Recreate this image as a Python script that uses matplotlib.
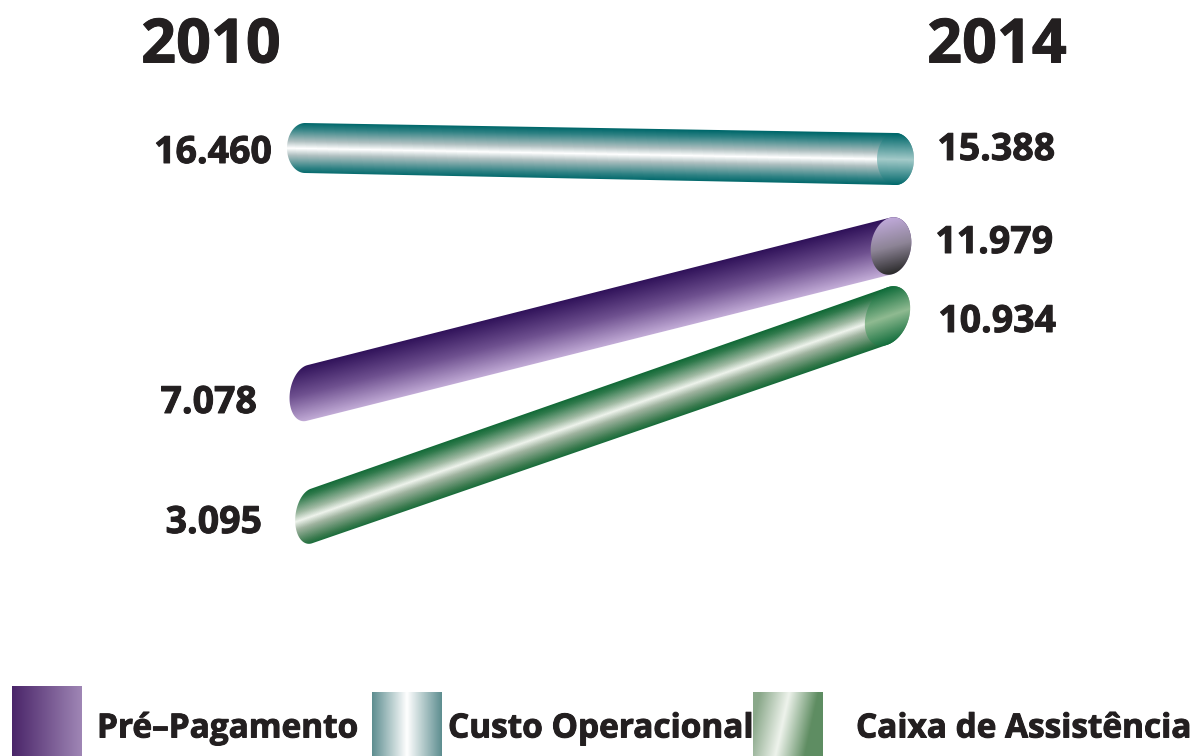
import numpy as np
import matplotlib
matplotlib.use("Agg")
import matplotlib.pyplot as plt
import matplotlib.patheffects as pe
from matplotlib.colors import LinearSegmentedColormap
from matplotlib.patches import PathPatch
from matplotlib.path import Path

years = [2010, 2014]
series_names = ["Custo Operacional", "Pré–Pagamento", "Caixa de Assistência"]
values_2010 = [16460, 7078, 3095]
values_2014 = [15388, 11979, 10934]
labels_2010 = ["16.460", "7.078", "3.095"]
labels_2014 = ["15.388", "11.979", "10.934"]

# the picture has no linear axis, so the y scale is piecewise (value -> px from bottom)
scale_values = [0, 3095, 7078, 10934, 11979, 15388, 16460, 20000]
scale_pixels = [0, 240, 363, 440, 510, 597, 608, 756]

W, H = 1197, 756
TEXT = "#231f20"
plt.rcParams["font.family"] = ["Open Sans", "DejaVu Sans"]
# source face is a bit heavier than Open Sans Bold
heavy = [pe.withStroke(linewidth=0.7, foreground=TEXT)]


def forward(v):
    return np.interp(v, scale_values, scale_pixels)


def inverse(p):
    return np.interp(p, scale_pixels, scale_values)


def cmap(*colors):
    return LinearSegmentedColormap.from_list("c", list(colors))


teal = cmap((0, "#00686b"), (0.12, "#2f8284"), (0.36, "#aebfc0"), (0.5, "#ffffff"),
            (0.64, "#aebfc0"), (0.88, "#2f8284"), (1, "#00686b"))
purple = cmap((0, "#2f1159"), (0.5, "#6f5190"), (1, "#c6b0da"))
green = cmap((0, "#0b6632"), (0.12, "#2f7a4c"), (0.36, "#9fb9a2"), (0.5, "#eef3ec"),
             (0.64, "#9fb39f"), (0.88, "#3a7a4e"), (1, "#0b6632"))
teal_cap = cmap((0, "#00686b"), (0.5, "#a3cac9"), (1, "#00686b"))
purple_cap = cmap((0, "#bfa9d9"), (0.5, "#8d8496"), (1, "#272727"))
green_cap = cmap((0, "#0c6a38"), (0.5, "#8fba91"), (1, "#0c6a38"))

# per tube drawing style: x nudges, left/right ellipse (a, b), tilt in degrees
tubes = [
    dict(c=teal, cap=teal_cap, dx=(0, 2.5), left=(18, 25), right=(18.5, 26), tilt=(0, 0)),
    dict(c=purple, cap=purple_cap, dx=(2, -2), left=(17, 28.5), right=(20, 29), tilt=(10, 10)),
    dict(c=green, cap=green_cap, dx=(6.5, -5.5), left=(16, 28), right=(21, 31), tilt=(8, 22)),
]


def ellipse(cx, cy, a, b, tilt, n=90):
    t = np.linspace(0, 2 * np.pi, n, endpoint=False)
    th = np.radians(tilt)
    x = cx + a * np.cos(t) * np.cos(th) + b * np.sin(t) * np.sin(th)
    y = cy + a * np.cos(t) * np.sin(th) - b * np.sin(t) * np.cos(th)
    return np.column_stack([x, y])


def hull(points):
    pts = sorted(map(tuple, points))

    def half(seq):
        out = []
        for p in seq:
            while len(out) > 1 and ((out[-1][0] - out[-2][0]) * (p[1] - out[-2][1])
                                    - (out[-1][1] - out[-2][1]) * (p[0] - out[-2][0])) <= 0:
                out.pop()
            out.append(p)
        return out[:-1]

    return np.array(half(pts) + half(pts[::-1]))


def paint(ax, outline, values, cm):
    x0, y0 = outline.min(axis=0) - 2
    x1, y1 = outline.max(axis=0) + 2
    im = ax.imshow(values(*np.meshgrid(np.arange(x0, x1), np.arange(y0, y1))), cmap=cm, vmin=0, vmax=1,
                   extent=(x0, x1, y1, y0), aspect="auto", interpolation="bilinear")
    verts = np.vstack([outline, outline[:1]])
    im.set_clip_path(PathPatch(Path(verts, closed=True), transform=ax.transData))


fig = plt.figure(figsize=(W / 100, H / 100), dpi=100)

# axis carrying the data: years across, values on the piecewise scale
ax = fig.add_axes([0, 0, 1, 1])
ax.set_xlim(2010 - 305 / 147, 2010 + (W - 305) / 147)
ax.set_yscale("function", functions=(forward, inverse))
ax.set_ylim(0, 20000)
ax.axis("off")

# pixel overlay, the gradients are painted here
px = fig.add_axes([0, 0, 1, 1])
px.set_xlim(0, W)
px.set_ylim(H, 0)
px.axis("off")
px.patch.set_alpha(0)

for i, tube in enumerate(tubes):
    xa, ya = ax.transData.transform((years[0], values_2010[i]))
    xb, yb = ax.transData.transform((years[1], values_2014[i]))
    xa, xb = xa + tube["dx"][0], xb + tube["dx"][1]
    ya, yb = H - ya, H - yb
    slope = (yb - ya) / (xb - xa)
    half = (tube["left"][1] + tube["right"][1]) / 2
    start = ellipse(xa, ya, *tube["left"], tube["tilt"][0])
    end = ellipse(xb, yb, *tube["right"], tube["tilt"][1])

    def across(X, Y):
        return np.clip(0.5 + 0.5 * (Y - (ya + slope * (X - xa))) / half, 0, 1)

    paint(px, hull(np.vstack([start, end])), across, tube["c"])
    paint(px, end, across, tube["cap"])

px.set_xlim(0, W)
px.set_ylim(H, 0)

title_font = dict(fontsize=44, fontweight="bold", color=TEXT, ha="center", va="center", path_effects=heavy)
px.text(211, 47, str(years[0]), **title_font)
px.text(997, 47, str(years[1]), **title_font)

value_font = dict(fontsize=27, fontweight="bold", color=TEXT, va="center", path_effects=heavy)
offsets_2010 = [(-33, -5), (-48, -10), (-43, -7)]
offsets_2014 = [(162, 9), (160, 3), (163, -6)]
for i in range(3):
    ax.annotate(labels_2010[i], (years[0], values_2010[i]), xytext=offsets_2010[i],
                textcoords="offset pixels", ha="right", **value_font)
    ax.annotate(labels_2014[i], (years[1], values_2014[i]), xytext=offsets_2014[i],
                textcoords="offset pixels", ha="right", **value_font)

# legend
legend_cm = [cmap("#5e8e90", "#ffffff", "#5e8e90"), cmap("#4a2569", "#9f86b5"),
             cmap("#8aa88a", "#eef3ec", "#5f8d62")]
swatches = [(372, 692, 70, 64), (12, 686, 70, 70), (753, 692, 70, 64)]
legend_text_x = [448, 97, 856]
for i in range(3):
    x0, y0, w, h = swatches[i]
    sx = fig.add_axes([x0 / W, 1 - (y0 + h) / H, w / W, h / H])
    X, Y = np.meshgrid(np.linspace(0, 1, 140), np.linspace(0, 1, 128))
    grad = np.clip((X + 0.2 * (Y - 0.5)) * 0.5 / 0.42, 0, 1) if i == 2 else X
    sx.imshow(grad, cmap=legend_cm[i], aspect="auto", vmin=0, vmax=1)
    sx.axis("off")
    px.text(legend_text_x[i], 729, series_names[i], fontsize=24, fontweight="bold", color=TEXT,
            ha="left", va="center", path_effects=heavy)

fig.savefig("out.png", dpi=100)
